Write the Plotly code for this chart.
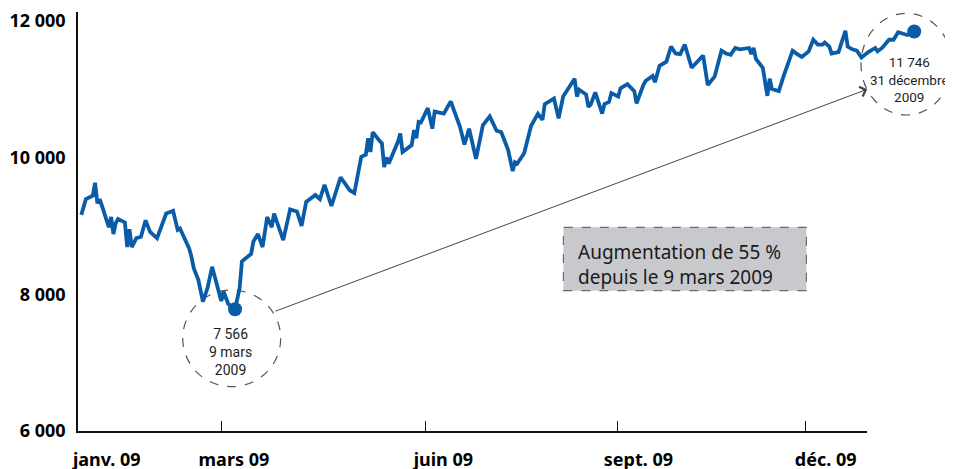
import plotly.graph_objects as go

# ---- data (day of year 2009, index level) ----
days = [2, 4, 7, 8, 9, 10, 11, 12, 14, 15,
        16, 17, 18, 21, 22, 23, 24, 26, 28, 30,
        32, 35, 39, 42, 44, 45, 49, 50, 51, 53,
        55, 57, 59, 63, 64, 66, 69, 71, 72, 76,
        77, 79, 81, 83, 85, 86, 90, 93, 96, 98,
        100, 104, 106, 108, 111, 115, 119, 121, 124, 126,
        127, 128, 129, 132, 133, 134, 135, 136, 140, 141,
        142, 146, 147, 148, 149, 150, 153, 155, 156, 160,
        163, 167, 169, 171, 174, 177, 180, 183, 185, 188,
        190, 191, 192, 195, 197, 198, 201, 203, 204, 208,
        210, 212, 217, 218, 219, 222, 223, 224, 226, 229,
        230, 232, 233, 236, 237, 240, 243, 244, 247, 248,
        251, 252, 254, 257, 259, 261, 263, 265, 268, 272,
        273, 275, 278, 281, 283, 285, 287, 289, 293, 294,
        295, 296, 299, 301, 302, 303, 306, 308, 312, 314,
        316, 319, 321, 323, 325, 326, 328, 329, 332, 335,
        336, 338, 340, 342, 345, 348, 349, 351, 354, 356,
        358, 362, 365]
values = [9160, 9390, 9440, 9630, 9330, 9390, 9290, 9180, 8980, 9130,
          8880, 9040, 9100, 9050, 8690, 8950, 8690, 8820, 8840, 9080,
          8910, 8820, 9180, 9220, 8940, 8960, 8670, 8550, 8380, 8210,
          7890, 8090, 8400, 7900, 8040, 7860, 7780, 8090, 8480, 8590,
          8770, 8880, 8690, 9130, 8980, 9180, 8790, 9240, 9210, 9000,
          9350, 9450, 9390, 9600, 9290, 9710, 9520, 9480, 10010, 10040,
          10280, 10080, 10370, 10240, 10210, 9860, 10000, 9910, 10230, 10350,
          10080, 10180, 10400, 10280, 10520, 10510, 10720, 10420, 10670, 10640,
          10820, 10450, 10190, 10420, 9980, 10470, 10600, 10390, 10370, 10110,
          9800, 9930, 9910, 10060, 10330, 10460, 10640, 10550, 10780, 10860,
          10570, 10890, 11150, 10890, 10990, 10920, 10740, 10770, 10950, 10640,
          10780, 10810, 10940, 10890, 11010, 11070, 10970, 10790, 11060, 11120,
          11190, 11100, 11340, 11400, 11620, 11520, 11510, 11650, 11310, 11470,
          11490, 11060, 11180, 11560, 11520, 11500, 11600, 11580, 11600, 11510,
          11600, 11440, 11310, 10900, 11150, 11000, 10970, 11180, 11560, 11510,
          11470, 11550, 11720, 11650, 11650, 11680, 11620, 11520, 11540, 11850,
          11620, 11580, 11560, 11460, 11540, 11600, 11550, 11600, 11720, 11720,
          11830, 11790, 11840]
assert len(days) == len(values)

tick_days = [62.9, 152.2, 235.5, 317.8]
label_days = [13.1, 68.5, 159.8, 244.8, 326.4]
x_labels = ["janv. 09", "mars 09", "juin 09", "sept. 09", "déc. 09"]
y_ticks = [6000, 8000, 10000, 12000]
y_labels = ["6 000", "8 000", "10 000", "12 000"]

low_label = "7 566<br>9 mars<br>2009"
end_label = "11 746<br>31 décembre<br>2009"
box_label = "Augmentation de 55 %<br>depuis le 9 mars 2009"

BLUE = "#0b5ca8"
GREY = "#555555"

i_low = values.index(min(values[:80]))
i_end = len(values) - 1

fig = go.Figure()
fig.add_trace(go.Scatter(x=days, y=values, mode="lines",
                         line=dict(color=BLUE, width=3.8), hoverinfo="skip",
                         showlegend=False))
fig.add_trace(go.Scatter(x=[days[i_low], days[i_end]], y=[values[i_low], values[i_end]],
                         mode="markers", marker=dict(color=BLUE, size=14),
                         hoverinfo="skip", showlegend=False))
# helper trace for the shorter baseline axis
fig.add_trace(go.Scatter(x=[], y=[], xaxis="x2", yaxis="y", showlegend=False))

# dashed circles
fig.add_shape(type="circle", xref="x", yref="y", x0=46.2, x1=88.9, y0=6648, y1=8061,
              line=dict(color=GREY, width=1.2, dash="dash"), layer="below")
fig.add_shape(type="circle", xref="x", yref="y", x0=341.8, x1=381.4, y0=10620, y1=12107,
              line=dict(color=GREY, width=1.2, dash="dash"), layer="below")
# box
fig.add_shape(type="rect", xref="x", yref="y", x0=212.1, x1=318.0, y0=8051, y1=8978,
              fillcolor="#c8c9cd", line=dict(color="#6a6a6a", width=1.2, dash="dash"),
              layer="below")

cfont = dict(family="Roboto, sans-serif", size=14, color="#1e1e1e")
fig.add_annotation(x=67.2, y=7159, text=low_label, showarrow=False, font=cfont,
                   xref="x", yref="y")
fig.add_annotation(x=362.8, y=11132, text=end_label, showarrow=False,
                   font=dict(family="Roboto, sans-serif", size=13.5, color="#1e1e1e"),
                   xref="x", yref="y")
fig.add_annotation(x=217.6, y=8433, text=box_label, showarrow=False, xanchor="left",
                   align="left", xref="x", yref="y",
                   font=dict(family="Noto Sans, sans-serif", size=19, color="#1a1a1a"))
# arrow
fig.add_annotation(x=344.5, y=10996, ax=86.0, ay=7744, xref="x", yref="y",
                   axref="x", ayref="y", text="", showarrow=True,
                   arrowhead=4, arrowsize=2, arrowwidth=1, arrowcolor="#444444")

tickfont = dict(family="Noto Sans, sans-serif", size=18, color="#000000", weight="bold")

# the page adds an 8px body margin: the figure is sized and placed to compensate
fig.update_layout(
    template="none",
    width=945, height=461,
    margin=dict(l=70, r=0, t=4, b=38),
    paper_bgcolor="white", plot_bgcolor="rgba(0,0,0,0)",
    showlegend=False,
    xaxis=dict(domain=[0, 1], range=[0.56, 381.9], showline=False, showgrid=False,
               zeroline=False, ticks="", tickvals=label_days, ticktext=x_labels,
               tickfont=tickfont, ticklabelstandoff=16, ticklabeloverflow="allow",
               automargin=False, anchor="y"),
    xaxis2=dict(domain=[0, 789 / 875], range=[0.56, 344.4], showline=True,
                linecolor="#111111", linewidth=1.5, showgrid=False, zeroline=False,
                ticks="inside", ticklen=10, tickwidth=1.2, tickcolor="#111111",
                tickvals=tick_days, showticklabels=False, anchor="y", automargin=False),
    yaxis=dict(range=[6000, 12126], showline=True, linecolor="#111111", linewidth=1.5,
               showgrid=False, zeroline=False, ticks="", tickvals=y_ticks,
               ticktext=y_labels, tickfont=tickfont, ticklabelstandoff=7,
               ticklabeloverflow="allow", automargin=False, anchor="x"),
)

fig.write_html("out.html")
